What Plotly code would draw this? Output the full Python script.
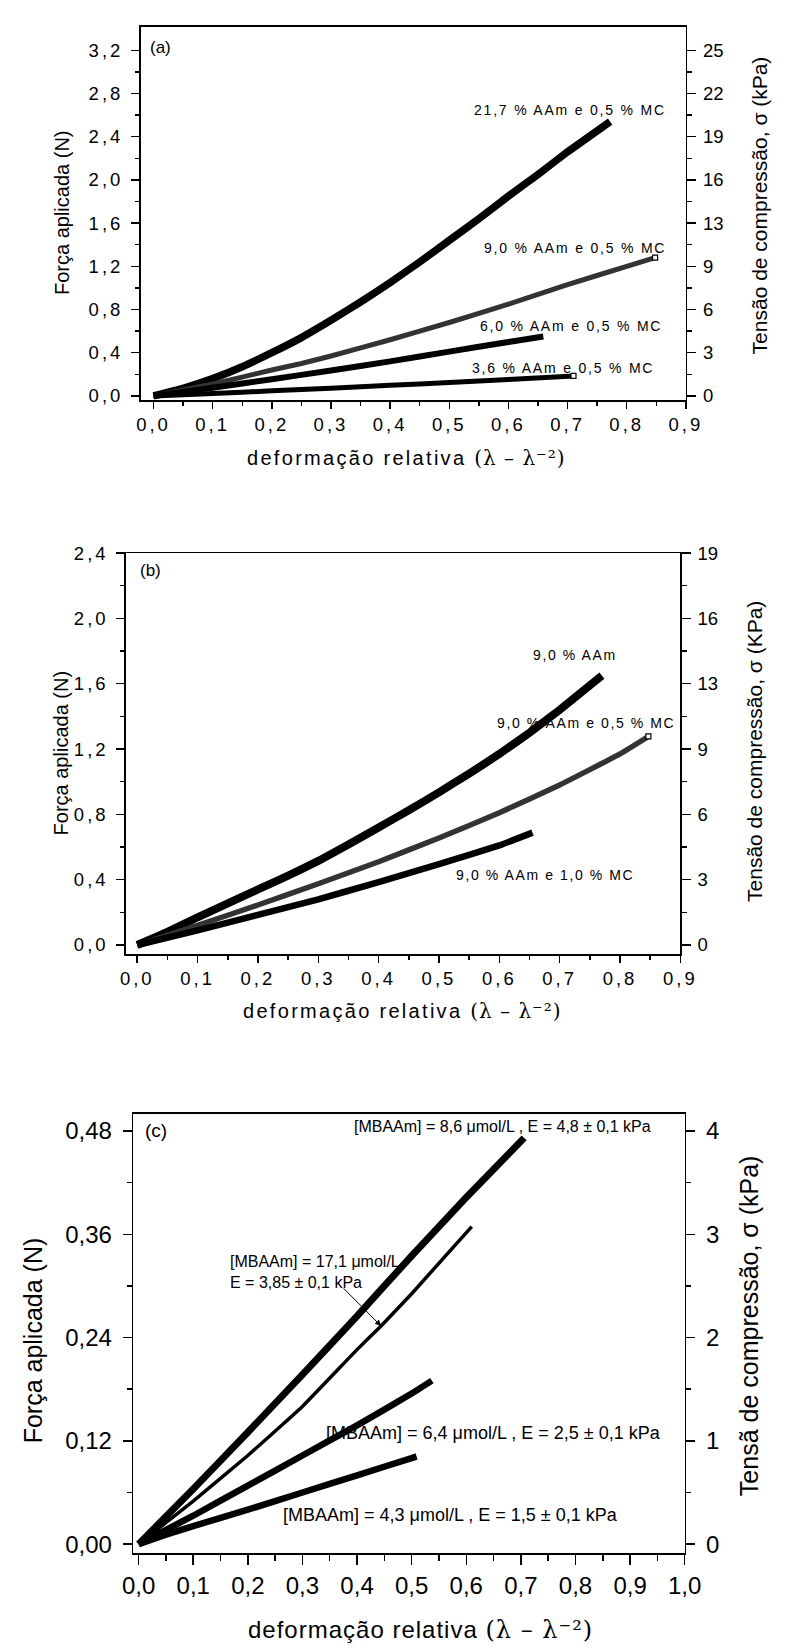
import plotly.graph_objects as go

# ---------------- DATA ----------------
# Panel (a)
A_NAMES = ["21,7 % AAm e 0,5 % MC", "9,0 % AAm e 0,5 % MC",
           "6,0 % AAm e 0,5 % MC", "3,6 % AAm e 0,5 % MC"]
A1_X = [0, 0.05, 0.10, 0.15, 0.20, 0.25, 0.30, 0.35, 0.40, 0.45, 0.50, 0.55, 0.60, 0.65, 0.70, 0.772]
A1_Y = [0, 0.07, 0.16, 0.27, 0.40, 0.54, 0.70, 0.87, 1.05, 1.24, 1.44, 1.64, 1.85, 2.05, 2.26, 2.54]
A2_X = [0, 0.10, 0.20, 0.25, 0.30, 0.40, 0.50, 0.60, 0.70, 0.80, 0.848]
A2_Y = [0, 0.11, 0.24, 0.30, 0.37, 0.52, 0.68, 0.85, 1.03, 1.20, 1.28]
A3_X = [0, 0.10, 0.20, 0.30, 0.40, 0.50, 0.60, 0.659]
A3_Y = [0, 0.075, 0.155, 0.235, 0.32, 0.41, 0.50, 0.55]
A4_X = [0, 0.10, 0.20, 0.30, 0.40, 0.50, 0.60, 0.71]
A4_Y = [0, 0.023, 0.047, 0.072, 0.098, 0.125, 0.153, 0.185]

# Panel (b)
B_NAMES = ["9,0 % AAm", "9,0 % AAm e 0,5 % MC", "9,0 % AAm e 1,0 % MC"]
B1_X = [0, 0.05, 0.10, 0.15, 0.20, 0.25, 0.30, 0.35, 0.40, 0.45, 0.50, 0.55, 0.60, 0.65, 0.70, 0.75, 0.77]
B1_Y = [0, 0.08, 0.17, 0.255, 0.34, 0.425, 0.515, 0.615, 0.72, 0.825, 0.935, 1.05, 1.17, 1.30, 1.44, 1.59, 1.65]
B2_X = [0, 0.10, 0.20, 0.30, 0.40, 0.50, 0.60, 0.70, 0.80, 0.847]
B2_Y = [0, 0.12, 0.245, 0.375, 0.51, 0.655, 0.81, 0.98, 1.17, 1.277]
B3_X = [0, 0.10, 0.20, 0.30, 0.40, 0.50, 0.60, 0.655]
B3_Y = [0, 0.09, 0.185, 0.28, 0.385, 0.495, 0.61, 0.688]

# Panel (c)
C_NAMES = ["[MBAAm] = 8,6 μmol/L , E = 4,8 ± 0,1 kPa",
           "[MBAAm] = 17,1 μmol/L<br>E = 3,85 ± 0,1 kPa",
           "[MBAAm] = 6,4 μmol/L , E = 2,5 ± 0,1 kPa",
           "[MBAAm] = 4,3 μmol/L , E = 1,5 ± 0,1 kPa"]
C1_X = [0, 0.10, 0.20, 0.30, 0.40, 0.50, 0.60, 0.706]
C1_Y = [0, 0.064, 0.13, 0.197, 0.265, 0.335, 0.403, 0.472]
C2_X = [0, 0.10, 0.20, 0.26, 0.30, 0.40, 0.444, 0.50, 0.61]
C2_Y = [0, 0.05, 0.103, 0.137, 0.16, 0.226, 0.2535, 0.291, 0.369]
C3_X = [0, 0.10, 0.20, 0.30, 0.40, 0.50, 0.537]
C3_Y = [0, 0.033, 0.068, 0.103, 0.138, 0.175, 0.19]
C4_X = [0, 0.05, 0.10, 0.20, 0.30, 0.40, 0.50, 0.509]
C4_Y = [0, 0.011, 0.021, 0.04, 0.06, 0.08, 0.10, 0.102]

# Tick values / labels
AB_X_TICKS = [0.0, 0.1, 0.2, 0.3, 0.4, 0.5, 0.6, 0.7, 0.8, 0.9]
AB_X_LABELS = ["0,0", "0,1", "0,2", "0,3", "0,4", "0,5", "0,6", "0,7", "0,8", "0,9"]
A_Y_TICKS = [0.0, 0.4, 0.8, 1.2, 1.6, 2.0, 2.4, 2.8, 3.2]
A_Y_LABELS = ["0,0", "0,4", "0,8", "1,2", "1,6", "2,0", "2,4", "2,8", "3,2"]
A_R_LABELS = ["0", "3", "6", "9", "13", "16", "19", "22", "25"]
B_Y_TICKS = [0.0, 0.4, 0.8, 1.2, 1.6, 2.0, 2.4]
B_Y_LABELS = ["0,0", "0,4", "0,8", "1,2", "1,6", "2,0", "2,4"]
B_R_LABELS = ["0", "3", "6", "9", "13", "16", "19"]
C_X_TICKS = [0.0, 0.1, 0.2, 0.3, 0.4, 0.5, 0.6, 0.7, 0.8, 0.9, 1.0]
C_X_LABELS = ["0,0", "0,1", "0,2", "0,3", "0,4", "0,5", "0,6", "0,7", "0,8", "0,9", "1,0"]
C_Y_TICKS = [0.0, 0.12, 0.24, 0.36, 0.48]
C_Y_LABELS = ["0,00", "0,12", "0,24", "0,36", "0,48"]
C_R_LABELS = ["0", "1", "2", "3", "4"]

STRESS_FACTOR_AB = 25 / 3.2   # kPa per N
STRESS_FACTOR_C = 4 / 0.48

# ---------------- STYLE ----------------
W, H = 789, 1651
FONT = "Liberation Sans, Arial, sans-serif"
BLACK = "black"
GREY = "#333333"


def ls(text, px):
    return f'<span style="letter-spacing:{px}px">{text}</span>'


def px_x(p):
    return p / W


def px_y(p):
    return 1 - p / H


def mids(vals):
    return [(a + b) / 2 for a, b in zip(vals[:-1], vals[1:])]


fig = go.Figure()


def line(x, y, xa, ya, width, color=BLACK):
    fig.add_trace(go.Scatter(x=x, y=y, xaxis=xa, yaxis=ya, mode="lines",
                             line=dict(color=color, width=width, shape="spline", smoothing=0.3),
                             showlegend=False, hoverinfo="skip"))


def endmark(x, y, xa, ya):
    fig.add_trace(go.Scatter(x=[x[-1]], y=[y[-1]], xaxis=xa, yaxis=ya, mode="markers",
                             marker=dict(symbol="square", size=5, color="white",
                                         line=dict(color=BLACK, width=1.2)),
                             showlegend=False, hoverinfo="skip"))


def right_axis_anchor(xa, ya):
    # empty trace so that the secondary (stress) axis gets drawn
    fig.add_trace(go.Scatter(x=[None], y=[None], xaxis=xa, yaxis=ya, mode="lines",
                             showlegend=False, hoverinfo="skip"))


# Panel (a)
line(A1_X, A1_Y, "x", "y", 7.5)
line(A2_X, A2_Y, "x", "y", 5, GREY)
line(A3_X, A3_Y, "x", "y", 6)
line(A4_X, A4_Y, "x", "y", 5)
endmark(A2_X, A2_Y, "x", "y")
endmark(A4_X, A4_Y, "x", "y")
right_axis_anchor("x", "y4")
# Panel (b)
line(B1_X, B1_Y, "x2", "y2", 8)
line(B2_X, B2_Y, "x2", "y2", 5.5, GREY)
line(B3_X, B3_Y, "x2", "y2", 6.5)
endmark(B2_X, B2_Y, "x2", "y2")
right_axis_anchor("x2", "y5")
# Panel (c)
line(C1_X, C1_Y, "x3", "y3", 7)
line(C2_X, C2_Y, "x3", "y3", 3.5)
line(C3_X, C3_Y, "x3", "y3", 6.5)
line(C4_X, C4_Y, "x3", "y3", 6.5)
right_axis_anchor("x3", "y6")


def xaxis(dom, rng, ticks, labels, anchor, font_size, spacing, ticklen, minorlen, minor_vals):
    txt = [ls(t, spacing) if spacing else t for t in labels]
    return dict(domain=dom, range=rng, anchor=anchor, showline=True, linecolor=BLACK,
                linewidth=1.5, mirror=True, ticks="outside", ticklen=ticklen, tickwidth=1.5,
                tickcolor=BLACK, tickmode="array", tickvals=ticks, ticktext=txt,
                tickfont=dict(family=FONT, size=font_size, color=BLACK),
                showgrid=False, zeroline=False, fixedrange=True,
                minor=dict(ticks="outside", ticklen=minorlen, tickwidth=1.5, tickcolor=BLACK,
                           tickmode="array", tickvals=minor_vals, showgrid=False))


def yaxis(dom, rng, ticks, labels, anchor, font_size, spacing, ticklen, minorlen, minor_vals,
          side="left", overlaying=None, standoff=4):
    txt = [ls(t, spacing) if spacing else t for t in labels]
    d = dict(range=rng, anchor=anchor, side=side, showline=True, linecolor=BLACK,
             linewidth=1.5, ticks="outside", ticklen=ticklen, tickwidth=1.5, tickcolor=BLACK,
             tickmode="array", tickvals=ticks, ticktext=txt,
             tickfont=dict(family=FONT, size=font_size, color=BLACK),
             showgrid=False, zeroline=False, fixedrange=True, ticklabelstandoff=standoff,
             minor=dict(ticks="outside", ticklen=minorlen, tickwidth=1.5, tickcolor=BLACK,
                        tickmode="array", tickvals=minor_vals, showgrid=False))
    if overlaying:
        d["overlaying"] = overlaying
    else:
        d["domain"] = dom
    return d


# domains from pixel frames
dom_a_x = [px_x(134.3), px_x(699.7)]
dom_a_y = [px_y(393.3), px_y(15.7)]
dom_b_x = [px_x(119.0), px_x(694.0)]
dom_b_y = [px_y(953.3), px_y(547.7)]
dom_c_x = [px_x(126.7), px_x(698.5)]
dom_c_y = [px_y(1558.3), px_y(1114.3)]

rng_a_y = [-0.04, 3.42]
rng_b_y = [-0.058, 2.4]
rng_c_y = [-0.0106, 0.5]

ab_x_minor = mids(AB_X_TICKS)
c_x_minor = mids(C_X_TICKS)

fig.update_layout(
    width=W, height=H, margin=dict(l=0, r=0, t=0, b=0),
    paper_bgcolor="white", plot_bgcolor="white", showlegend=False,
    font=dict(family=FONT, color=BLACK),
    xaxis=xaxis(dom_a_x, [-0.022, 0.9], AB_X_TICKS, AB_X_LABELS, "y", 18.5, 3, 7, 4, ab_x_minor),
    yaxis=yaxis(dom_a_y, rng_a_y, A_Y_TICKS, A_Y_LABELS, "x", 18.5, 3, 8, 4, mids(A_Y_TICKS)),
    yaxis4=yaxis(None, [v * STRESS_FACTOR_AB for v in rng_a_y],
                 [v * STRESS_FACTOR_AB for v in A_Y_TICKS], A_R_LABELS, "x", 18.5, 0, 9, 5,
                 [v * STRESS_FACTOR_AB for v in mids(A_Y_TICKS)], side="right", overlaying="y",
                 standoff=3),
    xaxis2=xaxis(dom_b_x, [-0.019, 0.9], AB_X_TICKS, AB_X_LABELS, "y2", 18.5, 3, 7, 4, ab_x_minor),
    yaxis2=yaxis(dom_b_y, rng_b_y, B_Y_TICKS, B_Y_LABELS, "x2", 18.5, 3, 8, 4, mids(B_Y_TICKS)),
    yaxis5=yaxis(None, [v * STRESS_FACTOR_AB for v in rng_b_y],
                 [v * STRESS_FACTOR_AB for v in B_Y_TICKS], B_R_LABELS, "x2", 18.5, 0, 9, 5,
                 [v * STRESS_FACTOR_AB for v in mids(B_Y_TICKS)], side="right", overlaying="y2",
                 standoff=3),
    xaxis3=xaxis(dom_c_x, [-0.0099, 1.0], C_X_TICKS, C_X_LABELS, "y3", 24, 0, 10, 6, c_x_minor),
    yaxis3=yaxis(dom_c_y, rng_c_y, C_Y_TICKS, C_Y_LABELS, "x3", 24, 0, 9, 4.5, mids(C_Y_TICKS),
                 standoff=6),
    yaxis6=yaxis(None, [v * STRESS_FACTOR_C for v in rng_c_y],
                 [v * STRESS_FACTOR_C for v in C_Y_TICKS], C_R_LABELS, "x3", 24, 0, 9, 4.5,
                 [v * STRESS_FACTOR_C for v in mids(C_Y_TICKS)], side="right", overlaying="y3",
                 standoff=6),
)

ann = []


def paper_text(text, x, y, size, angle=0, xanchor="center"):
    ann.append(dict(text=text, x=px_x(x), y=px_y(y), xref="paper", yref="paper",
                    xanchor=xanchor, yanchor="middle", showarrow=False, textangle=angle,
                    font=dict(family=FONT, size=size, color=BLACK)))


def data_text(text, x, y, xr, yr, size, xanchor="center", align="center"):
    ann.append(dict(text=text, x=x, y=y, xref=xr, yref=yr, xanchor=xanchor, yanchor="middle",
                    align=align, showarrow=False,
                    font=dict(family=FONT, size=size, color=BLACK)))


LAMBDA = ('<span style="font-family:DejaVu Serif;letter-spacing:1px">'
          '(λ – λ⁻²)</span>')


def xtitle(spacing):
    return ls("deformação relativa ", spacing) + LAMBDA


# Panel (a) titles
paper_text(xtitle(2.3), 410, 452, 20)
paper_text("Força aplicada (N)", 53, 204, 20, -90)
paper_text("Tensão de compressão, σ (kPa)", 777, 196, 21, -90)
paper_text("(a)", 142, 37, 17, xanchor="left")
# Panel (a) curve labels
data_text(ls(A_NAMES[0], 1.8), 0.704, 2.649, "x", "y", 14)
data_text(ls(A_NAMES[1], 1.8), 0.712, 1.366, "x", "y", 14)
data_text(ls(A_NAMES[2], 1.8), 0.705, 0.648, "x", "y", 14)
data_text(ls(A_NAMES[3], 1.8), 0.692, 0.259, "x", "y", 14)

# Panel (b) titles
paper_text(xtitle(2.3), 405, 1010, 20)
paper_text("Força aplicada (N)", 52, 750, 20, -90)
paper_text("Tensão de compressão, σ (KPa)", 771, 748, 21, -90)
paper_text("(b)", 131.5, 565, 17, xanchor="left")
data_text(ls(B_NAMES[0], 1.6), 0.725, 1.773, "x2", "y2", 14)
data_text(ls(B_NAMES[1], 1.6), 0.744, 1.359, "x2", "y2", 14)
data_text(ls(B_NAMES[2], 1.6), 0.676, 0.429, "x2", "y2", 14)

# Panel (c) titles
paper_text(xtitle(1), 425, 1636, 24)
paper_text("Força aplicada (N)", 23, 1343, 25, -90)
paper_text("Tensã de compressão, σ (kPa)", 766, 1328, 25, -90)
paper_text("(c)", 136.5, 1131, 19, xanchor="left")
data_text(C_NAMES[0], 0.666, 0.4855, "x3", "y3", 16)
data_text(C_NAMES[1], 0.1635, 0.316, "x3", "y3", 16, xanchor="left", align="left")
data_text(C_NAMES[2], 0.650, 0.1295, "x3", "y3", 18)
data_text(C_NAMES[3], 0.571, 0.0342, "x3", "y3", 18)
# arrow pointing to the 17,1 curve
ann.append(dict(text="", x=C2_X[6], y=C2_Y[6], ax=0.3727, ay=0.2989, xref="x3", yref="y3",
                axref="x3", ayref="y3", showarrow=True, arrowhead=2, arrowsize=1.2,
                arrowwidth=1, arrowcolor=BLACK, standoff=0))

fig.update_layout(annotations=ann)

fig.write_html("out.html", config={"displayModeBar": False, "staticPlot": True},
               post_script=("document.body.style.margin='0px';"
                            "document.body.style.padding='0px';"
                            "document.documentElement.style.overflow='hidden';"))
